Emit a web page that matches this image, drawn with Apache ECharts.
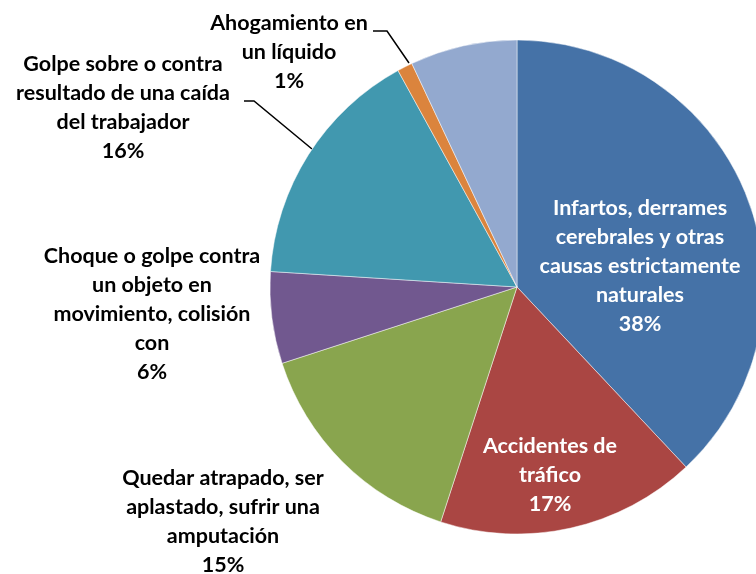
<!DOCTYPE html>
<html>
<head>
<meta charset="utf-8">
<script src="https://cdn.jsdelivr.net/npm/echarts@6/dist/echarts.min.js"></script>
<style>
  html, body { margin: 0; padding: 0; background: #fff; }
  #chart { width: 756px; height: 574px; }
</style>
</head>
<body>
<div id="chart"></div>
<script>
// Causes of fatal work accidents, share of total (%)
const categories = [
  'Infartos, derrames\ncerebrales y otras\ncausas estrictamente\nnaturales',
  'Accidentes de\ntráfico',
  'Quedar atrapado, ser\naplastado, sufrir una\namputación',
  'Choque o golpe contra\nun objeto en\nmovimiento, colisión\ncon',
  'Golpe sobre o contra\nresultado de una caída\ndel trabajador',
  'Ahogamiento en\nun líquido',
  'Otros'
];
const shares = [38, 17, 15, 6, 16, 1, 7];
const colors = ['#4572A7', '#AA4643', '#89A54E', '#71588F', '#4198AF', '#DB843D', '#93A9CF'];

const FONT = 'Lato, "Open Sans", sans-serif';

const chart = echarts.init(document.getElementById('chart'), null, { renderer: 'canvas' });

const data = categories.map((name, i) => {
  const item = {
    name: name,
    value: shares[i],
    itemStyle: { color: colors[i] }
  };
  if (i <= 1) {
    item.label = { color: '#fff' };
  }
  if (i === 4 || i === 5) {
    item.labelLine = { show: true };
  }
  if (i === 6) {
    item.label = { show: false };
  }
  return item;
});

// Label block placement (centre of each text block) and leader-line routes
function placeLabel(params) {
  const i = params.dataIndex;
  switch (i) {
    case 0: return { x: 640, y: 266, align: 'center', verticalAlign: 'middle' };
    case 1: return { x: 550, y: 475, align: 'center', verticalAlign: 'middle' };
    case 2: return { x: 223, y: 522, align: 'center', verticalAlign: 'middle' };
    case 3: return { x: 152, y: 314, align: 'center', verticalAlign: 'middle' };
    case 4: return {
      x: 123, y: 108, align: 'center', verticalAlign: 'middle',
      labelLinePoints: [[244, 101], [254, 101], [312, 149]]
    };
    case 5: return {
      x: 289, y: 52, align: 'center', verticalAlign: 'middle',
      labelLinePoints: [[373, 31], [387, 31], [409, 63]]
    };
    default: return {};
  }
}

chart.setOption({
  backgroundColor: '#fff',
  animation: false,
  series: [{
    type: 'pie',
    center: [517, 287],
    radius: 247,
    startAngle: 90,
    clockwise: true,
    avoidLabelOverlap: false,
    itemStyle: { borderColor: 'rgba(255,255,255,0.6)', borderWidth: 0.8 },
    label: {
      show: true,
      position: 'outside',
      formatter: p => p.name + '\n' + p.value + '%',
      color: '#000',
      fontFamily: FONT,
      fontWeight: 'bold',
      fontSize: 21.5,
      lineHeight: 29,
      align: 'center'
    },
    labelLine: {
      show: false,
      lineStyle: { color: '#000', width: 1.5 }
    },
    labelLayout: placeLabel,
    data: data
  }]
});
</script>
</body>
</html>
